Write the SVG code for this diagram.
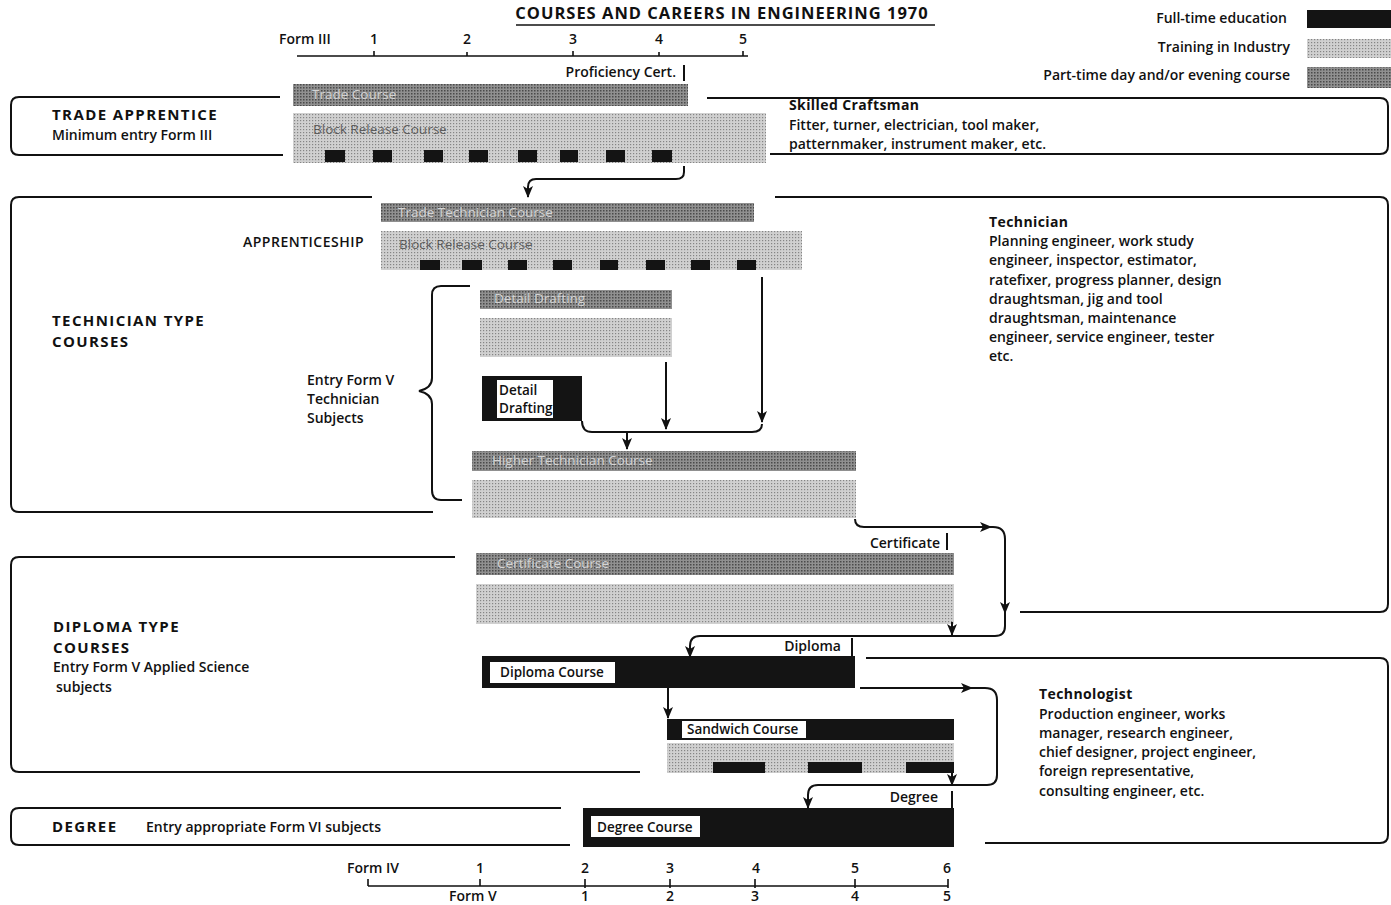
<svg xmlns="http://www.w3.org/2000/svg" width="1391" height="905" viewBox="0 0 1391 905">
<style>
text{font-family:"Open Sans","Liberation Sans",sans-serif;fill:#111;font-size:14px;font-weight:600}
.b{font-weight:bold;letter-spacing:0.4px}
.h{font-weight:bold;font-size:15px;letter-spacing:1.4px}
.t{font-weight:bold;font-size:16.5px;letter-spacing:1px}
.bl{font-size:13.5px;fill:#3a3a3a;opacity:.75;font-weight:normal}
.pl{font-size:13.5px;fill:#d4d4d4;font-weight:normal}
.wl{font-size:13.5px;font-weight:600}
.ln{fill:none;stroke:#111;stroke-width:2}
.ax{fill:none;stroke:#111;stroke-width:1.6}
.cn{fill:none;stroke:#111;stroke-width:2}
.blk{fill:#141414}
.wb{fill:#fff}
</style>
<defs>
<pattern id="ptp" width="3" height="3" patternUnits="userSpaceOnUse">
<rect width="3" height="3" fill="#909090"/><rect width="1.5" height="1.5" fill="#4a4a4a"/>
</pattern>
<pattern id="trp" width="3" height="3" patternUnits="userSpaceOnUse">
<rect width="3" height="3" fill="#d0d0d0"/><rect width="1.2" height="1.2" fill="#858585"/>
</pattern>
<marker id="ah" viewBox="0 0 12 10" refX="11" refY="5" markerWidth="12" markerHeight="10" markerUnits="userSpaceOnUse" orient="auto">
<path d="M0,0 L12,5 L0,10 L3,5 z" fill="#111"/>
</marker>
</defs>
<rect width="1391" height="905" fill="#fff"/>

<g id="title">
<text x="722" y="19" text-anchor="middle" class="t">COURSES AND CAREERS IN ENGINEERING 1970</text>
<line x1="516" y1="25" x2="935" y2="25" class="ax"/>
</g>

<g id="legend">
<text x="1287" y="23" text-anchor="end">Full-time education</text>
<rect x="1307" y="10" width="84" height="18" class="blk"/>
<text x="1290" y="52" text-anchor="end">Training in Industry</text>
<rect x="1307" y="39" width="84" height="19" fill="url(#trp)"/>
<text x="1290" y="80" text-anchor="end">Part-time day and/or  evening course</text>
<rect x="1307" y="67" width="84" height="21" fill="url(#ptp)"/>
</g>

<g id="top-axis">
<text x="279" y="44">Form III</text>
<text x="374" y="44" text-anchor="middle">1</text>
<text x="467" y="44" text-anchor="middle">2</text>
<text x="573" y="44" text-anchor="middle">3</text>
<text x="659" y="44" text-anchor="middle">4</text>
<text x="743" y="44" text-anchor="middle">5</text>
<path class="ax" d="M297,56 H748 M374,51 V56 M467,52 V56 M573,51 V56 M659,52 V56 M743,51 V56"/>
</g>

<g id="trade-apprentice">
<path class="ln" d="M280,97 H19 Q11,97 11,105 V147 Q11,155 19,155 H283"/>
<text x="52" y="120" class="h">TRADE APPRENTICE</text>
<text x="52" y="140">Minimum entry Form III</text>
</g>

<g id="trade-course">
<text x="676" y="77" text-anchor="end">Proficiency Cert.</text>
<line x1="684" y1="65" x2="684" y2="81" class="ln"/>
<rect x="293" y="84" width="395" height="22" fill="url(#ptp)"/>
<text x="312" y="99" class="pl">Trade Course</text>
</g>

<g id="block-release-1">
<rect x="293" y="113" width="473" height="50" fill="url(#trp)"/>
<text x="313" y="134" class="bl">Block Release Course</text>
<g class="blk">
<rect x="325" y="150" width="20" height="12"/><rect x="373" y="150" width="19" height="12"/>
<rect x="424" y="150" width="19" height="12"/><rect x="469" y="150" width="19" height="12"/>
<rect x="518" y="150" width="19" height="12"/><rect x="560" y="150" width="18" height="12"/>
<rect x="606" y="150" width="19" height="12"/><rect x="652" y="150" width="20" height="12"/>
</g>
</g>

<g id="skilled-craftsman">
<path class="ln" d="M707,98 H1380 Q1388,98 1388,106 V146 Q1388,154 1380,154 H770"/>
<text x="789" y="110" class="b">Skilled Craftsman</text>
<text x="789" y="130">Fitter, turner, electrician, tool maker,</text>
<text x="789" y="149">patternmaker, instrument maker, etc.</text>
</g>

<g id="technician-type">
<path class="ln" d="M372,197 H19 Q11,197 11,205 V504 Q11,512 19,512 H433"/>
<text x="52" y="326" class="h">TECHNICIAN TYPE</text>
<text x="52" y="347" class="h">COURSES</text>
<text x="243" y="247" style="letter-spacing:0.5px">APPRENTICESHIP</text>
</g>

<g id="trade-technician-course">
<rect x="381" y="203" width="373" height="19" fill="url(#ptp)"/>
<text x="398" y="217" class="pl">Trade Technician Course</text>
</g>

<g id="block-release-2">
<rect x="381" y="231" width="421" height="39" fill="url(#trp)"/>
<text x="399" y="249" class="bl">Block Release Course</text>
<g class="blk">
<rect x="420" y="260" width="20" height="10"/><rect x="462" y="260" width="20" height="10"/>
<rect x="508" y="260" width="19" height="10"/><rect x="553" y="260" width="19" height="10"/>
<rect x="600" y="260" width="18" height="10"/><rect x="646" y="260" width="19" height="10"/>
<rect x="691" y="260" width="19" height="10"/><rect x="737" y="260" width="19" height="10"/>
</g>
</g>

<g id="entry-form-v">
<path class="ln" d="M470,286 H441 Q432,286 432,295 V378 Q432,388 419,391 Q432,394 432,404 V490 Q432,500 441,500 H462"/>
<text x="307" y="385">Entry Form V</text>
<text x="307" y="404">Technician</text>
<text x="307" y="423">Subjects</text>
</g>

<g id="detail-drafting-pt">
<rect x="480" y="290" width="192" height="19" fill="url(#ptp)"/>
<text x="494" y="303" class="pl">Detail Drafting</text>
<rect x="480" y="318" width="192" height="39" fill="url(#trp)"/>
</g>

<g id="detail-drafting-ft">
<rect x="482" y="376" width="100" height="45" class="blk"/>
<rect x="497" y="380" width="56" height="38" class="wb"/>
<text x="499" y="395" class="wl">Detail</text>
<text x="499" y="413" class="wl">Drafting</text>
</g>

<g id="higher-technician-course">
<rect x="472" y="451" width="384" height="20" fill="url(#ptp)"/>
<text x="492" y="465" class="pl">Higher Technician Course</text>
<rect x="472" y="480" width="384" height="38" fill="url(#trp)"/>
</g>

<g id="technician-career">
<path class="ln" d="M775,197 H1380 Q1388,197 1388,205 V604 Q1388,612 1380,612 H1020"/>
<text x="989" y="227" class="b">Technician</text>
<text x="989" y="246">Planning engineer, work study</text>
<text x="989" y="265">engineer, inspector, estimator,</text>
<text x="989" y="285">ratefixer, progress planner, design</text>
<text x="989" y="304">draughtsman, jig and tool</text>
<text x="989" y="323">draughtsman, maintenance</text>
<text x="989" y="342">engineer, service engineer, tester</text>
<text x="989" y="361">etc.</text>
</g>

<g id="certificate-course">
<text x="940" y="548" text-anchor="end">Certificate</text>
<line x1="947" y1="533" x2="947" y2="550" class="ln"/>
<rect x="476" y="553" width="478" height="22" fill="url(#ptp)"/>
<text x="497" y="568" class="pl">Certificate Course</text>
<rect x="476" y="584" width="478" height="40" fill="url(#trp)"/>
</g>

<g id="diploma-type">
<path class="ln" d="M455,557 H19 Q11,557 11,565 V764 Q11,772 19,772 H640"/>
<text x="53" y="632" class="h">DIPLOMA TYPE</text>
<text x="53" y="653" class="h">COURSES</text>
<text x="53" y="672">Entry Form V Applied Science</text>
<text x="56" y="692">subjects</text>
</g>

<g id="diploma-course">
<text x="841" y="651" text-anchor="end">Diploma</text>
<line x1="852" y1="638" x2="852" y2="658" class="ln"/>
<rect x="482" y="656" width="373" height="32" class="blk"/>
<rect x="490" y="662" width="125" height="21" class="wb"/>
<text x="500" y="677" class="wl">Diploma Course</text>
</g>

<g id="sandwich-course">
<rect x="667" y="719" width="287" height="21" class="blk"/>
<rect x="682" y="721" width="124" height="17" class="wb"/>
<text x="687" y="734" class="wl">Sandwich Course</text>
<rect x="667" y="743" width="287" height="30" fill="url(#trp)"/>
<g class="blk">
<rect x="713" y="762" width="52" height="11"/><rect x="808" y="762" width="54" height="11"/><rect x="906" y="762" width="48" height="11"/>
</g>
</g>

<g id="degree">
<path class="ln" d="M561,808 H19 Q11,808 11,816 V837 Q11,845 19,845 H570"/>
<text x="52" y="832" class="h">DEGREE</text>
<text x="146" y="832">Entry appropriate Form VI subjects</text>
</g>

<g id="degree-course">
<text x="938" y="802" text-anchor="end">Degree</text>
<line x1="952" y1="791" x2="952" y2="808" class="ln"/>
<rect x="583" y="808" width="371" height="39" class="blk"/>
<rect x="591" y="816" width="109" height="21" class="wb"/>
<text x="597" y="832" class="wl">Degree Course</text>
</g>

<g id="technologist-career">
<path class="ln" d="M866,658 H1380 Q1388,658 1388,666 V835 Q1388,843 1380,843 H985"/>
<text x="1039" y="699" class="b">Technologist</text>
<text x="1039" y="719">Production engineer, works</text>
<text x="1039" y="738">manager, research engineer,</text>
<text x="1039" y="757">chief designer, project engineer,</text>
<text x="1039" y="776">foreign representative,</text>
<text x="1039" y="796">consulting engineer, etc.</text>
</g>

<g id="connectors">
<path class="cn" d="M684,166 V172 Q684,179 676,179 H536 Q528,179 528,187 V197" marker-end="url(#ah)"/>
<path class="cn" d="M666,362 V429" marker-end="url(#ah)"/>
<path class="cn" d="M762,277 V422" marker-end="url(#ah)"/>
<path class="cn" d="M582,421 Q582,432 592,432 H752 Q762,432 762,424"/>
<path class="cn" d="M627,432 V449" marker-end="url(#ah)"/>
<path class="cn" d="M855,519 Q855,527 864,527 H991" marker-end="url(#ah)"/>
<path class="cn" d="M985,527 H993 Q1005,527 1005,539 V613" marker-end="url(#ah)"/>
<path class="cn" d="M1005,608 V626 Q1005,636 995,636 H700 Q690,636 690,646 V657" marker-end="url(#ah)"/>
<path class="cn" d="M952,622 V635" marker-end="url(#ah)"/>
<path class="cn" d="M668,688 V718" marker-end="url(#ah)"/>
<path class="cn" d="M860,688 H972" marker-end="url(#ah)"/>
<path class="cn" d="M965,688 H985 Q997,688 997,700 V775 Q997,785 987,785 H818 Q808,785 808,795 V808" marker-end="url(#ah)"/>
<path class="cn" d="M952,773 V785" marker-end="url(#ah)"/>
</g>

<g id="bottom-axis">
<text x="347" y="873">Form IV</text>
<text x="480" y="873" text-anchor="middle">1</text>
<text x="585" y="873" text-anchor="middle">2</text>
<text x="670" y="873" text-anchor="middle">3</text>
<text x="756" y="873" text-anchor="middle">4</text>
<text x="855" y="873" text-anchor="middle">5</text>
<text x="947" y="873" text-anchor="middle">6</text>
<path class="ax" d="M368,886 H948 M368,879 V886 M480,879 V886 M585,879 V888 M670,879 V888 M755,879 V888 M855,879 V888 M948,879 V888"/>
<text x="449" y="901">Form V</text>
<text x="585" y="901" text-anchor="middle">1</text>
<text x="670" y="901" text-anchor="middle">2</text>
<text x="755" y="901" text-anchor="middle">3</text>
<text x="855" y="901" text-anchor="middle">4</text>
<text x="947" y="901" text-anchor="middle">5</text>
</g>
</svg>
